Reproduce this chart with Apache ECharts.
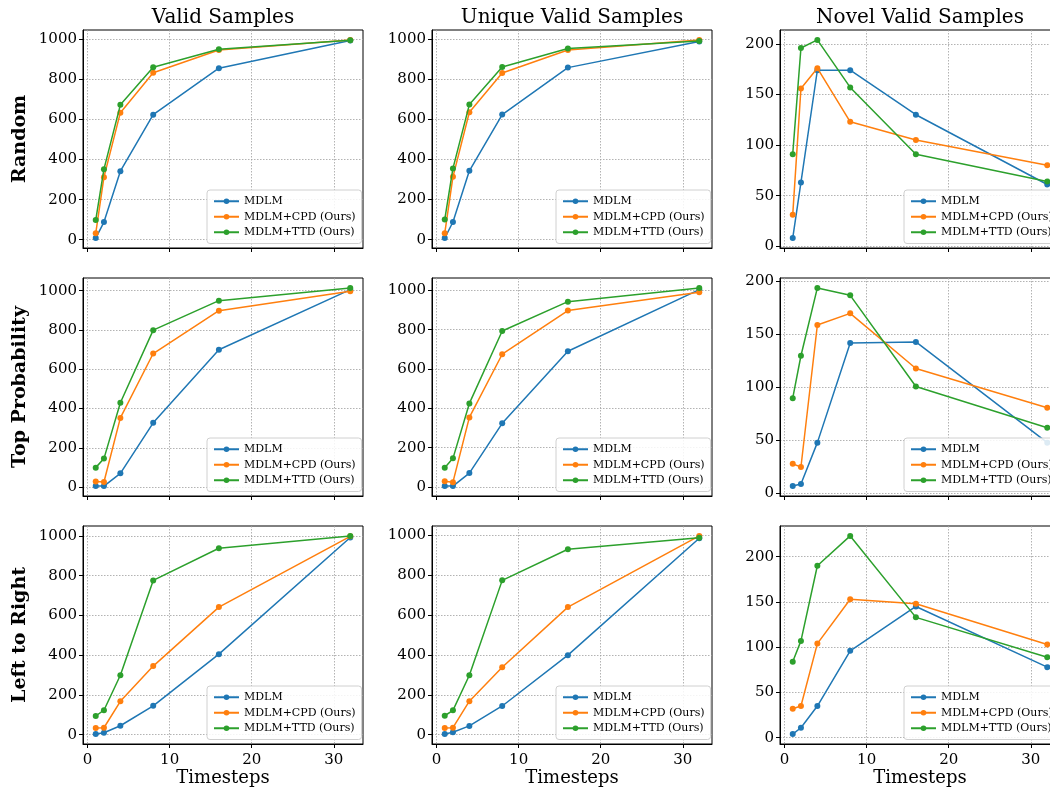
<!DOCTYPE html>
<html>
<head>
<meta charset="utf-8">
<script src="https://cdn.jsdelivr.net/npm/echarts@6/dist/echarts.min.js"></script>
<style>
html,body{margin:0;padding:0;background:#fff;}
#chart{width:1050px;height:787px;}
</style>
</head>
<body>
<div id="chart"></div>
<script>
// ---- data ----
const timesteps = [1, 2, 4, 8, 16, 32];
const methods = ['MDLM', 'MDLM+CPD (Ours)', 'MDLM+TTD (Ours)'];
const metrics = ['Valid Samples', 'Unique Valid Samples', 'Novel Valid Samples'];
const strategies = ['Random', 'Top Probability', 'Left to Right'];
const xTicks = [0, 10, 20, 30];
const countTicks = [0, 200, 400, 600, 800, 1000];
const novelTicks = [0, 50, 100, 150, 200];

// rows: MDLM, MDLM+CPD, MDLM+TTD
const random_valid = [
  [8, 88, 342, 624, 856, 994],
  [32, 312, 634, 833, 947, 997],
  [98, 352, 673, 861, 950, 995]
];
const random_unique = [
  [8, 88, 343, 623, 857, 987],
  [32, 313, 635, 830, 945, 995],
  [100, 355, 673, 860, 952, 990]
];
const random_novel = [
  [8, 63, 174, 174, 130, 61],
  [31, 156, 176, 123, 105, 80],
  [91, 196, 204, 157, 91, 64]
];
const topprob_valid = [
  [5, 5, 70, 327, 699, 1005],
  [29, 26, 352, 680, 898, 997],
  [99, 145, 429, 799, 949, 1014]
];
const topprob_unique = [
  [5, 5, 71, 324, 690, 1003],
  [29, 25, 354, 675, 897, 990],
  [98, 146, 425, 793, 942, 1012]
];
const topprob_novel = [
  [7, 9, 48, 142, 143, 48],
  [28, 25, 159, 170, 118, 81],
  [90, 130, 194, 187, 101, 62]
];
const l2r_valid = [
  [3, 10, 45, 145, 405, 992],
  [34, 35, 168, 345, 642, 998],
  [94, 123, 299, 776, 938, 1000]
];
const l2r_unique = [
  [3, 12, 44, 144, 399, 985],
  [34, 35, 168, 338, 640, 997],
  [95, 122, 298, 774, 930, 988]
];
const l2r_novel = [
  [4, 11, 35, 96, 145, 78],
  [32, 35, 104, 153, 148, 103],
  [84, 107, 190, 223, 133, 89]
];

const panels = [
  [random_valid, random_unique, random_novel],
  [topprob_valid, topprob_unique, topprob_novel],
  [l2r_valid, l2r_unique, l2r_novel]
];

// ---- layout ----
const colors = ['#1f77b4', '#ff7f0e', '#2ca02c'];
const FONT = 'DejaVu Serif';
const colLeft = [83, 432, 780];
const rowTop = [30, 278, 526];
const gW = 280, gH = 218;

const grids = [], xAxes = [], yAxes = [], series = [], legends = [], graphics = [];

function extent(rows) {
  let mn = Infinity, mx = -Infinity;
  rows.forEach(r => r.forEach(v => { mn = Math.min(mn, v); mx = Math.max(mx, v); }));
  const pad = (mx - mn) * 0.05;
  return [mn - pad, mx + pad];
}
const xmin = timesteps[0] - (timesteps[5] - timesteps[0]) * 0.05;
const xmax = timesteps[5] + (timesteps[5] - timesteps[0]) * 0.05;
const plain = v => String(Math.round(v));

let idx = 0;
for (let r = 0; r < 3; r++) {
  for (let c = 0; c < 3; c++) {
    const rows = panels[r][c];
    const [ymin, ymax] = extent(rows);
    const yt = c === 2 ? novelTicks : countTicks;
    grids.push({
      left: colLeft[c], top: rowTop[r], width: gW, height: gH,
      outerBoundsMode: 'none', containLabel: false,
      show: true, borderColor: '#000', borderWidth: 1, backgroundColor: 'transparent'
    });
    xAxes.push({
      type: 'value', gridIndex: idx, min: xmin, max: xmax,
      axisLine: { show: true, onZero: false, lineStyle: { color: '#000', width: 1 } },
      axisTick: { show: true, length: 4, customValues: xTicks, lineStyle: { color: '#000' } },
      axisLabel: { show: r === 2, customValues: xTicks, formatter: plain, margin: 9, color: '#000', fontFamily: FONT, fontSize: 15 },
      splitLine: { show: true, lineStyle: { color: '#a0a0a0', type: [1.5, 1.5], width: 0.8 } },
      name: r === 2 ? 'Timesteps' : '',
      nameLocation: 'middle', nameGap: 25,
      nameTextStyle: { color: '#000', fontFamily: FONT, fontSize: 18 }
    });
    yAxes.push({
      type: 'value', gridIndex: idx, min: ymin, max: ymax,
      axisLine: { show: true, onZero: false, lineStyle: { color: '#000', width: 1 } },
      axisTick: { show: true, length: 4, customValues: yt, lineStyle: { color: '#000' } },
      axisLabel: { show: true, customValues: yt, formatter: plain, margin: 6, color: '#000', fontFamily: FONT, fontSize: 15 },
      splitLine: { show: true, lineStyle: { color: '#a0a0a0', type: [1.5, 1.5], width: 0.8 } }
    });
    for (let m = 0; m < 3; m++) {
      series.push({
        type: 'line', name: methods[m], xAxisIndex: idx, yAxisIndex: idx,
        data: timesteps.map((t, i) => [t, rows[m][i]]),
        symbol: 'circle', symbolSize: 6, showSymbol: true,
        lineStyle: { width: 1.5, color: colors[m] },
        itemStyle: { color: colors[m] },
        emphasis: { disabled: true }, animation: false, z: 3 + m
      });
    }
    legends.push({
      data: methods, orient: 'vertical',
      left: colLeft[c] + gW - 156, top: rowTop[r] + gH - 58,
      width: 150,
      backgroundColor: 'rgba(255,255,255,0.85)', borderColor: '#d0d0d0', borderWidth: 1, borderRadius: 3,
      padding: [5, 6, 5, 6], itemWidth: 25, itemHeight: 7, itemGap: 3,
      textStyle: { fontFamily: FONT, fontSize: 11, color: '#000', lineHeight: 12.5 },
      selectedMode: false
    });
    idx++;
  }
}

metrics.forEach((t, c) => {
  graphics.push({
    type: 'text',
    x: colLeft[c] + gW / 2, y: 18,
    style: { text: t, x: 0, y: 0, align: 'center', verticalAlign: 'middle', font: '20px "DejaVu Serif"', fill: '#000' }
  });
});
strategies.forEach((s, r) => {
  graphics.push({
    type: 'text', x: 20, y: rowTop[r] + gH / 2, rotation: Math.PI / 2,
    style: { text: s, x: 0, y: 0, align: 'center', verticalAlign: 'middle', font: 'bold 19px "DejaVu Serif"', fill: '#000' }
  });
});

const chart = echarts.init(document.getElementById('chart'));
chart.setOption({
  backgroundColor: '#fff',
  animation: false,
  grid: grids, xAxis: xAxes, yAxis: yAxes,
  series: series, legend: legends, graphic: graphics
});
</script>
</body>
</html>
